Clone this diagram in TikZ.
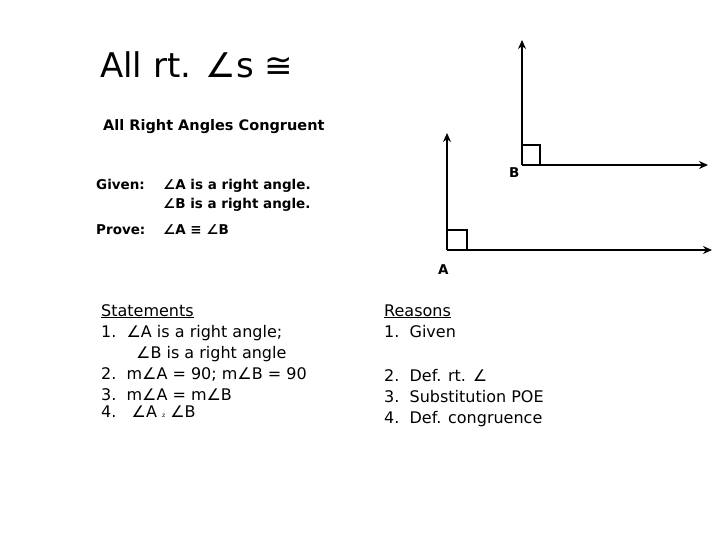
\documentclass[tikz,border=0pt]{standalone}
\usepackage{fontspec}
\setmainfont{DejaVu Sans}
\usetikzlibrary{arrows.meta,positioning}
\tikzset{
  >=Stealth,
  every node/.append style={inner sep=0pt, anchor=base west},
  ray/.style={->, line width=1.3pt, >={Stealth[length=9pt,width=8pt]}},
  rtmark/.style={line width=1.3pt},
  txt/.style={font=\fontsize{16}{18}\selectfont},
  hdr/.style={font=\fontsize{13.5}{15}\selectfont\bfseries},
}
\begin{document}
\begin{tikzpicture}[x=1pt,y=-1pt]
\useasboundingbox (0,0) rectangle (720,540);

% --- Title ---
\node[font=\fontsize{34}{38}\selectfont] (title) at (100,78) {All rt. ∠s ≅};
\node[font=\fontsize{14.5}{17}\selectfont\bfseries] (sub) at (103,131) {All Right Angles Congruent};

% --- Given / Prove ---
\node[hdr] (given) at (96,190) {Given:};
\node[hdr] (g1) at (163,190) {∠A is a right angle.};
\node[hdr] (g2) at (163,209) {∠B is a right angle.};
\node[hdr] (prove) at (96,235) {Prove:};
\node[hdr] (p1) at (163,235) {∠A ≡ ∠B};

% --- Angle B ---
\coordinate (vb) at (522,165);
\coordinate (bup) at (522,40);
\coordinate (bright) at (708,165);
\draw[ray] (vb) -- (bup);
\draw[ray] (vb) -- (bright);
\draw[rtmark] (522,145) -- (540,145) -- (540,165);
\node[hdr] (lb) at (509,178) {B};

% --- Angle A ---
\coordinate (va) at (447,250);
\coordinate (aup) at (447,133);
\coordinate (aright) at (712,250);
\draw[ray] (va) -- (aup);
\draw[ray] (va) -- (aright);
\draw[rtmark] (447,230) -- (467,230) -- (467,250);
\node[hdr] (la) at (438,274) {A};

% --- Statements ---
\node[txt] (st) at (101,316) {\underline{Statements}};
\node[txt] (s1) at (101,337) {1.\ \ ∠A is a right angle;};
\node[txt] (s1b) at (136,358) {∠B is a right angle};
\node[txt] (s2) at (101,379) {2.\ \ m∠A = 90; m∠B = 90};
\node[txt] (s3) at (101,400) {3.\ \ m∠A = m∠B};
\node[txt] (s4) at (101,417) {4.\ \ \ ∠A {\fontsize{6}{6}\selectfont z} ∠B};

% --- Reasons ---
\node[txt] (rs) at (384,316) {\underline{Reasons}};
\node[txt] (r1) at (384,337) {1.\ \ Given};
\node[txt] (r2) at (384,381) {2.\ \ Def. rt. ∠};
\node[txt] (r3) at (384,402) {3.\ \ Substitution POE};
\node[txt] (r4) at (384,423) {4.\ \ Def. congruence};
\end{tikzpicture}
\end{document}
